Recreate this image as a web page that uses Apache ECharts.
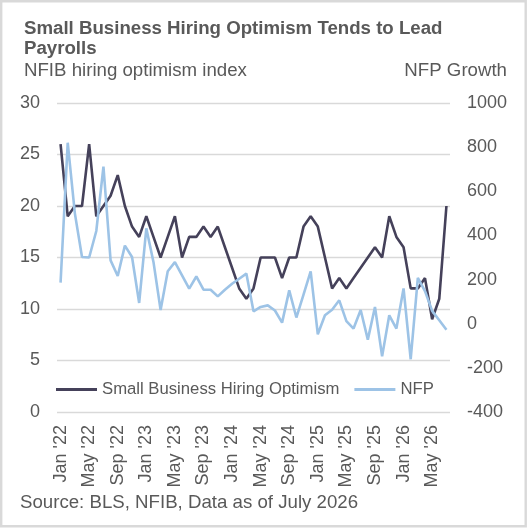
<!DOCTYPE html>
<html>
<head>
<meta charset="utf-8">
<script src="https://cdn.jsdelivr.net/npm/echarts@6/dist/echarts.min.js"></script>
<style>
  html, body { margin: 0; padding: 0; background: #fff; }
  #chart { width: 531px; height: 529px; }
</style>
</head>
<body>
<div id="chart"></div>
<script>
// monthly, Jan 2022 .. Jul 2026
var month_names = ["Jan","Feb","Mar","Apr","May","Jun","Jul","Aug","Sep","Oct","Nov","Dec"];
var start_year = 2022;
var n_months = 55;

var hiring_optimism = [26, 19, 20, 20, 26, 19, 20, 21, 23, 20, 18, 17,
                       19, 17, 15, 17, 19, 15, 17, 17, 18, 17, 18, 16,
                       14, 12, 11, 12, 15, 15, 15, 13, 15, 15, 18, 19,
                       18, 15, 12, 13, 12, 13, 14, 15, 16, 15, 19, 17,
                       16, 12, 12, 13, 9, 11, 20];

var nfp = [186, 820, 500, 302, 300, 420, 712, 287, 216, 354, 302, 94,
           432, 280, 62, 238, 279, 219, 159, 214, 154, 154, 124, 154,
           181, 204, 227, 56, 76, 83, 60, 5, 151, 28, 132, 237,
           -48, 38, 63, 106, 12, -22, 62, -72, 76, -148, 38, -22,
           160, -161, 208, 148, 58, 16, -27];

var left_ticks = { min: 0, max: 30, step: 5 };
var right_ticks = { min: -400, max: 1000, step: 200 };

var categories = [];
for (var i = 0; i < n_months; i++) {
    var yy = start_year + Math.floor(i / 12);
    categories.push(month_names[i % 12] + " '" + String(yy).slice(2));
}

var txt = "#595959";
var font = "'Liberation Sans', Arial, sans-serif";

var option = {
    animation: false,
    textStyle: { fontFamily: font },
    graphic: [{
        type: "rect",
        shape: { x: 1.2, y: 1.2, width: 524.5, height: 525 },
        style: { fill: "none", stroke: "#d9d9d9", lineWidth: 2.4 },
        silent: true
    }],
    title: [
        {
            text: "Small Business Hiring Optimism Tends to Lead\nPayrolls",
            left: 24, top: 19, padding: 0,
            textStyle: { fontSize: 18.67, fontWeight: "bold", color: txt, lineHeight: 20, fontFamily: font }
        },
        {
            text: "NFIB hiring optimism index",
            left: 24, top: 61, padding: 0,
            textStyle: { fontSize: 18.67, fontWeight: "normal", color: txt, fontFamily: font }
        },
        {
            text: "NFP Growth",
            right: 24, top: 61, padding: 0,
            textStyle: { fontSize: 18.67, fontWeight: "normal", color: txt, fontFamily: font }
        },
        {
            text: "Source: BLS, NFIB, Data as of July 2026",
            left: 20, top: 493, padding: 0,
            textStyle: { fontSize: 18.67, fontWeight: "normal", color: txt, fontFamily: font }
        }
    ],
    legend: {
        left: 56, top: 381, padding: 0,
        icon: "rect",
        itemWidth: 41, itemHeight: 3,
        itemGap: 15,
        textStyle: { fontSize: 16.7, color: txt, fontFamily: font, padding: [0, 0, 0, 0] },
        data: ["Small Business Hiring Optimism", "NFP"]
    },
    grid: { left: 57, right: 81, top: 103, bottom: 117, containLabel: false },
    xAxis: {
        type: "category",
        data: categories,
        boundaryGap: true,
        axisLine: { show: false },
        axisTick: { show: false },
        axisLabel: { interval: 3, rotate: 90, margin: 13, fontSize: 18, color: txt, fontFamily: font }
    },
    yAxis: [
        {
            type: "value",
            min: left_ticks.min, max: left_ticks.max, interval: left_ticks.step,
            axisLine: { show: false }, axisTick: { show: false },
            axisLabel: { margin: 17, fontSize: 18, color: txt, fontFamily: font },
            splitLine: { lineStyle: { color: "#d9d9d9", width: 1.4 } }
        },
        {
            type: "value",
            position: "right",
            min: right_ticks.min, max: right_ticks.max, interval: right_ticks.step,
            axisLine: { show: false }, axisTick: { show: false },
            axisLabel: {
                margin: 17, fontSize: 18, color: txt, fontFamily: font,
                formatter: function (v) { return String(v); }
            },
            splitLine: { show: false }
        }
    ],
    series: [
        {
            name: "Small Business Hiring Optimism",
            type: "line",
            yAxisIndex: 0,
            data: hiring_optimism,
            symbol: "none",
            color: "#45415a",
            lineStyle: { width: 2.6, color: "#45415a" }
        },
        {
            name: "NFP",
            type: "line",
            yAxisIndex: 1,
            data: nfp,
            symbol: "none",
            color: "#9dc3e6",
            lineStyle: { width: 2.6, color: "#9dc3e6" }
        }
    ]
};

var my_chart = echarts.init(document.getElementById("chart"), null, { renderer: "canvas" });
my_chart.setOption(option);
</script>
</body>
</html>
